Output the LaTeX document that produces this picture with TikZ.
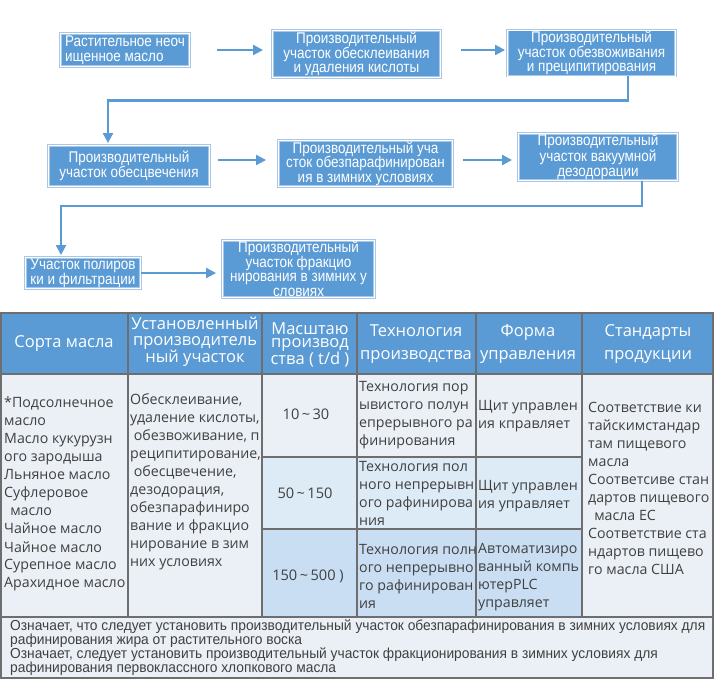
\documentclass[tikz,border=0pt]{standalone}
\usepackage{fontspec}
\setmainfont{Open Sans}
\newfontfamily\narrowf[FakeStretch=0.87]{Liberation Sans}
\newfontfamily\footf[FakeStretch=0.95]{Liberation Sans}
\usetikzlibrary{arrows.meta,calc}
\definecolor{fblue}{HTML}{5B9BD5}
\definecolor{fedge}{HTML}{A9C8E8}
\definecolor{hdr}{HTML}{5B9BD5}
\definecolor{bodyc}{HTML}{EBF0F7}
\definecolor{rowb}{HTML}{DDEBF7}
\definecolor{rowc}{HTML}{C9DEF3}
\definecolor{gridc}{HTML}{6E6E6E}
\definecolor{txt}{HTML}{404040}
\begin{document}
\begin{tikzpicture}[x=1pt,y=-1pt,
  fbox/.style={fill=fblue, draw=fedge, double=white, double distance=0.8pt, line width=0.9pt,
    text=white, font=\narrowf\fontsize{15.5}{14.6}\selectfont, inner sep=1pt, align=center},
  arr/.style={draw=fblue, line width=2.2pt, -{Triangle[length=10pt,width=10pt]}},
  gridl/.style={draw=gridc, line width=1.4pt},
  hdrtxt/.style={text=white, font=\fontsize{16.5}{23}\selectfont, align=center, inner sep=0pt},
  celltxt/.style={text=txt, font=\fontsize{14.2}{18}\selectfont, align=left, inner sep=0pt, anchor=north west},
  numtxt/.style={text=txt, font=\fontsize{14.6}{18}\selectfont, inner sep=0pt}]
\useasboundingbox (0,0) rectangle (714,683);
\fill[white] (0,0) rectangle (714,683);

% ---- flow chart ----
\node[fbox, minimum width=129pt, minimum height=33pt, align=left] (b1) at (125,50) {Растительное неоч\\ищенное масло};
\node[fbox, minimum width=168pt, minimum height=47pt] (b2) at (356.5,54) {Производительный\\участок обесклеивания\\и удаления кислоты};
\node[fbox, minimum width=168pt, minimum height=45pt] (b3) at (591.5,53) {Производительный\\участок обезвоживания\\и преципитирования};
\node[fbox, minimum width=161pt, minimum height=41pt] (b4) at (129,166) {Производительный\\участок обесцвечения};
\node[fbox, minimum width=174pt, minimum height=46pt] (b5) at (365.5,163.5) {Производительный уча\\сток обезпарафинирован\\ия в зимних условиях};
\node[fbox, minimum width=159pt, minimum height=46pt] (b6) at (598,157) {Производительный\\участок вакуумной\\дезодорации};
\node[fbox, minimum width=115pt, minimum height=31pt, align=left] (b7) at (83,273) {Участок полиров\\ки и фильтрации};
\node[fbox, minimum width=152pt, minimum height=57pt] (b8) at (298.5,269) {Производительный\\участок фракцио\\нирования в зимних у\\словиях};

\draw[arr, shorten <=27pt, shorten >=9pt] (b1.east) -- (b2.west |- b1.east);
\draw[arr, shorten <=20pt, shorten >=2pt] (b2.east |- b1.east) -- (b3.west |- b1.east);
\draw[arr, shorten >=2pt] ([xshift=-48pt]b3.south east) -- ++(0,24) -| ([xshift=-21pt]b4.north);
\draw[arr, shorten <=8pt, shorten >=12pt] (b4.east |- 0,160) -- (b5.west |- 0,160);
\draw[arr, shorten <=10pt, shorten >=6pt] (b5.east |- 0,160) -- (b6.west |- 0,160);
\draw[arr, shorten >=2pt] ([xshift=-36pt]b6.south east) -- ++(0,25) -| ([xshift=-22pt]b7.north);
\draw[arr, shorten >=6pt] (b7.east) -- (b8.west |- b7.east);

% ---- table ----
\fill[hdr] (1,313) rectangle (713,374);
\fill[bodyc] (1,374) rectangle (713,678);
\fill[rowb] (262,457) rectangle (582,529);
\fill[rowc] (262,529) rectangle (582,617);
\draw[gridl] (1,313) rectangle (713,678);
\draw[gridl] (1,374) -- (713,374);
\draw[gridl] (1,617) -- (713,617);
\foreach \x in {128,262,357,476,582} \draw[gridl] (\x,313) -- (\x,617);
\draw[gridl] (262,457) -- (582,457);
\draw[gridl] (262,529) -- (582,529);

\node[hdrtxt] (h1) at (64,344) {Сорта масла};
\node[hdrtxt, font=\fontsize{16.5}{15.5}\selectfont] (h2) at (195,342) {Установленный\\производитель\\ный участок};
\node[hdrtxt, font=\fontsize{16.5}{13}\selectfont] (h3) at (310,345) {Масштаю\\производ\\ства ( t/d )};
\node[hdrtxt] (h4) at (416,344) {Технология\\производства};
\node[hdrtxt] (h5) at (528,344) {Форма\\управления};
\node[hdrtxt] (h6) at (648,344) {Стандарты\\продукции};

\node[celltxt] (c1) at (4,397) {*Подсолнечное\\масло\\Масло кукурузн\\ого зародыша\\Льняное масло\\Суфлеровое\\\ \,масло\\Чайное масло\\Чайное масло\\Сурепное масло\\Арахидное масло};
\node[celltxt] (c2) at (130,393) {Обесклеивание,\\удаление кислоты,\\\ обезвоживание, п\\реципитирование,\\\ обесцвечение,\\дезодорация,\\обезпарафиниро\\вание и фракцио\\нирование в зим\\них условиях};
\node[numtxt] (n1) at (306,414) {10\,\textasciitilde\,30};
\node[numtxt] (n2) at (305,493) {50\,\textasciitilde\,150};
\node[numtxt] (n3) at (308,576) {150\,\textasciitilde\,500 )};
\node[celltxt] (t1) at (359,381) {Технология пор\\ывистого полун\\епрерывного ра\\финирования};
\node[celltxt] (t2) at (359,461) {Технология пол\\ного непрерывн\\ого рафинирова\\ния};
\node[celltxt] (t3) at (359,544) {Технология полн\\ого непрерывно\\го рафинирован\\ия};
\node[celltxt] (f1) at (478,400) {Щит управлен\\ия кправляет};
\node[celltxt] (f2) at (478,480) {Щит управлен\\ия управляет};
\node[celltxt] (f3) at (478,543) {Автоматизиро\\ванный компь\\ютерPLC\\управляет};
\node[celltxt] (s1) at (588,402) {Соответствие ки\\тайскимстандар\\там пищевого\\масла\\Соответсиве стан\\дартов пищевого\\\ \,масла ЕС\\Соответствие ста\\ндартов пищево\\го масла США};
\node[celltxt, font=\footf\fontsize{14.5}{14}\selectfont] (fn) at (10,620) {Означает, что следует установить производительный участок обезпарафинирования в зимних условиях для\\рафинирования жира от растительного воска\\Означает, следует установить производительный участок фракционирования в зимних условиях для\\рафинирования первоклассного хлопкового масла};
\end{tikzpicture}
\end{document}
